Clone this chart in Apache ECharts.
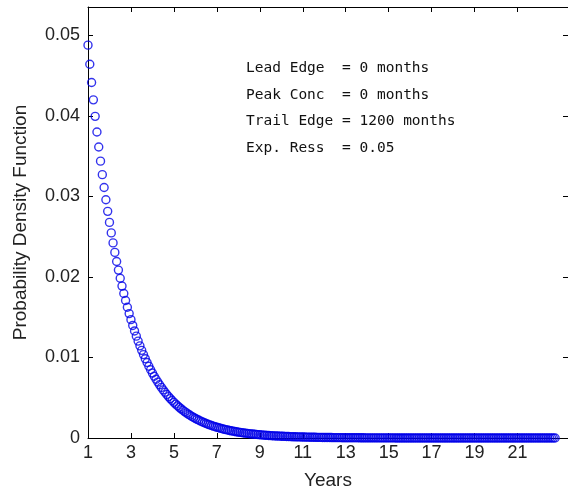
<!DOCTYPE html>
<html>
<head>
<meta charset="utf-8">
<script src="https://cdn.jsdelivr.net/npm/echarts@6/dist/echarts.min.js"></script>
<style>
html,body{margin:0;padding:0;background:#fff;}
#chart{width:568px;height:495px;}
</style>
</head>
<body>
<div id="chart"></div>
<script>
// Monthly PDF values (first point at year 1, one point per month)
const startYear = 1;
const monthsPerYear = 12;
const pdfValues = [
  0.048766, 0.046388, 0.044126, 0.041974, 0.039927, 0.037980, 0.036128, 0.034366, 0.032690, 0.031096, 0.029579,
  0.028136, 0.026764, 0.025459, 0.024217, 0.023036, 0.021913, 0.020844, 0.019827, 0.018860, 0.017940,
  0.017065, 0.016233, 0.015441, 0.014688, 0.013972, 0.013291, 0.012643, 0.012026, 0.011440, 0.010882,
  0.010351, 0.009846, 0.009366, 0.008909, 0.008475, 0.008062, 0.007669, 0.007295, 0.006939, 0.006601,
  0.006279, 0.005973, 0.005682, 0.005405, 0.005141, 0.004890, 0.004652, 0.004425, 0.004209, 0.004004,
  0.003809, 0.003623, 0.003446, 0.003278, 0.003118, 0.002966, 0.002821, 0.002684, 0.002553, 0.002428,
  0.002310, 0.002197, 0.002090, 0.001988, 0.001891, 0.001799, 0.001711, 0.001628, 0.001549, 0.001473,
  0.001401, 0.001333, 0.001268, 0.001206, 0.001147, 0.001091, 0.001038, 0.000987, 0.000939, 0.000893,
  0.000850, 0.000808, 0.000769, 0.000731, 0.000696, 0.000662, 0.000629, 0.000599, 0.000570, 0.000542,
  0.000515, 0.000490, 0.000466, 0.000444, 0.000422, 0.000401, 0.000382, 0.000363, 0.000345, 0.000329,
  0.000313, 0.000297, 0.000283, 0.000269, 0.000256, 0.000244, 0.000232, 0.000220, 0.000210, 0.000199,
  0.000190, 0.000180, 0.000172, 0.000163, 0.000155, 0.000148, 0.000141, 0.000134, 0.000127, 0.000121,
  0.000115, 0.000109, 0.000104, 0.000099, 0.000094, 0.000090, 0.000085, 0.000081, 0.000077, 0.000073,
  0.000070, 0.000066, 0.000063, 0.000060, 0.000057, 0.000054, 0.000052, 0.000049, 0.000047, 0.000045,
  0.000042, 0.000040, 0.000038, 0.000037, 0.000035, 0.000033, 0.000031, 0.000030, 0.000028, 0.000027,
  0.000026, 0.000024, 0.000023, 0.000022, 0.000021, 0.000020, 0.000019, 0.000018, 0.000017, 0.000016,
  0.0000156, 0.0000148, 0.0000141, 0.0000134, 0.0000128, 0.0000122, 0.0000116, 0.0000110, 0.0000105, 0.0000100,
  0.0000095, 0.0000090, 0.0000086, 0.0000082, 0.0000078, 0.0000074, 0.0000070, 0.0000067, 0.0000064, 0.0000060,
  5.7e-6, 5.4e-6, 5.2e-6, 4.9e-6, 4.7e-6, 4.5e-6, 4.2e-6, 4.0e-6, 3.8e-6, 3.7e-6,
  3.5e-6, 3.3e-6, 3.2e-6, 3.0e-6, 2.9e-6, 2.7e-6, 2.6e-6, 2.5e-6, 2.4e-6, 2.2e-6,
  2.1e-6, 2.0e-6, 1.9e-6, 1.8e-6, 1.7e-6, 1.6e-6, 1.6e-6, 1.5e-6, 1.4e-6, 1.3e-6,
  1.3e-6, 1.2e-6, 1.2e-6, 1.1e-6, 1.0e-6, 1.0e-6, 0.95e-6, 0.9e-6, 0.86e-6, 0.82e-6,
  0.78e-6, 0.74e-6, 0.70e-6, 0.67e-6, 0.64e-6, 0.61e-6, 0.58e-6, 0.55e-6, 0.52e-6, 0.50e-6,
  0.47e-6, 0.45e-6, 0.43e-6, 0.41e-6, 0.39e-6, 0.37e-6, 0.35e-6, 0.33e-6, 0.32e-6, 0.30e-6,
  0.29e-6, 0.27e-6, 0.26e-6, 0.25e-6, 0.23e-6, 0.22e-6, 0.21e-6, 0.20e-6, 0.19e-6, 0.18e-6,
  0.17e-6, 0.16e-6, 0.16e-6, 0.15e-6, 0.14e-6, 0.13e-6, 0.13e-6, 0.12e-6, 0.11e-6, 0.11e-6, 0.10e-6
];
const xTickYears = [1, 3, 5, 7, 9, 11, 13, 15, 17, 19, 21];
const yTicks = [0, 0.01, 0.02, 0.03, 0.04, 0.05];
const annotationLines = [
  'Lead Edge  = 0 months',
  'Peak Conc  = 0 months',
  'Trail Edge = 1200 months',
  'Exp. Ress  = 0.05'
];

const seriesData = pdfValues.map((v, i) => [startYear + i / monthsPerYear, v]);

const tickFont = { fontFamily: 'Liberation Sans, Arial, sans-serif', fontSize: 18, color: '#222' };
const axisLineStyle = { lineStyle: { color: '#000', width: 1 } };

const chart = echarts.init(document.getElementById('chart'), null, { renderer: 'canvas' });
chart.setOption({
  animation: false,
  backgroundColor: '#fff',
  grid: { left: 88, top: 7, right: -2, bottom: 57 },
  xAxis: [{
    type: 'value', min: 1, max: 23.35, position: 'bottom',
    name: 'Years', nameLocation: 'middle', nameGap: 33,
    nameTextStyle: { fontFamily: 'Liberation Sans, Arial, sans-serif', fontSize: 19, color: '#222' },
    axisLine: { show: true, onZero: false, ...axisLineStyle },
    axisTick: { show: true, inside: true, length: 5, customValues: xTickYears, lineStyle: { color: '#000' } },
    axisLabel: { show: true, margin: 6, customValues: xTickYears, ...tickFont },
    splitLine: { show: false }
  }, {
    type: 'value', min: 1, max: 23.35, position: 'top',
    axisLine: { show: true, onZero: false, ...axisLineStyle },
    axisTick: { show: true, inside: true, length: 5, customValues: xTickYears, lineStyle: { color: '#000' } },
    axisLabel: { show: false },
    splitLine: { show: false }
  }],
  yAxis: [{
    type: 'value', min: 0, max: 0.0535, position: 'left',
    name: 'Probability Density Function', nameLocation: 'middle', nameGap: 58, nameRotate: 90,
    nameTextStyle: { fontFamily: 'Liberation Sans, Arial, sans-serif', fontSize: 19, color: '#222' },
    axisLine: { show: true, onZero: false, ...axisLineStyle },
    axisTick: { show: true, inside: true, length: 5, customValues: yTicks, lineStyle: { color: '#000' } },
    axisLabel: {
      show: true, margin: 8, customValues: yTicks, ...tickFont,
      formatter: v => (v === 0 ? '0' : v.toFixed(2))
    },
    splitLine: { show: false }
  }, {
    type: 'value', min: 0, max: 0.0535, position: 'right',
    axisLine: { show: true, onZero: false, ...axisLineStyle },
    axisTick: { show: true, inside: true, length: 5, customValues: yTicks, lineStyle: { color: '#000' } },
    axisLabel: { show: false },
    splitLine: { show: false }
  }],
  series: [{
    type: 'scatter',
    xAxisIndex: 0, yAxisIndex: 0,
    data: seriesData,
    symbol: 'circle',
    symbolSize: 8,
    itemStyle: { color: 'rgba(0,0,0,0)', borderColor: '#0000e8', borderWidth: 1.4 },
    emphasis: { disabled: true },
    z: 3
  }],
  graphic: annotationLines.map((t, i) => ({
    type: 'text',
    left: 246,
    top: 61 + i * 26.5,
    style: {
      text: t,
      fontFamily: 'DejaVu Sans Mono, Liberation Mono, monospace',
      fontSize: 14.5,
      fill: '#111'
    }
  }))
});
</script>
</body>
</html>
